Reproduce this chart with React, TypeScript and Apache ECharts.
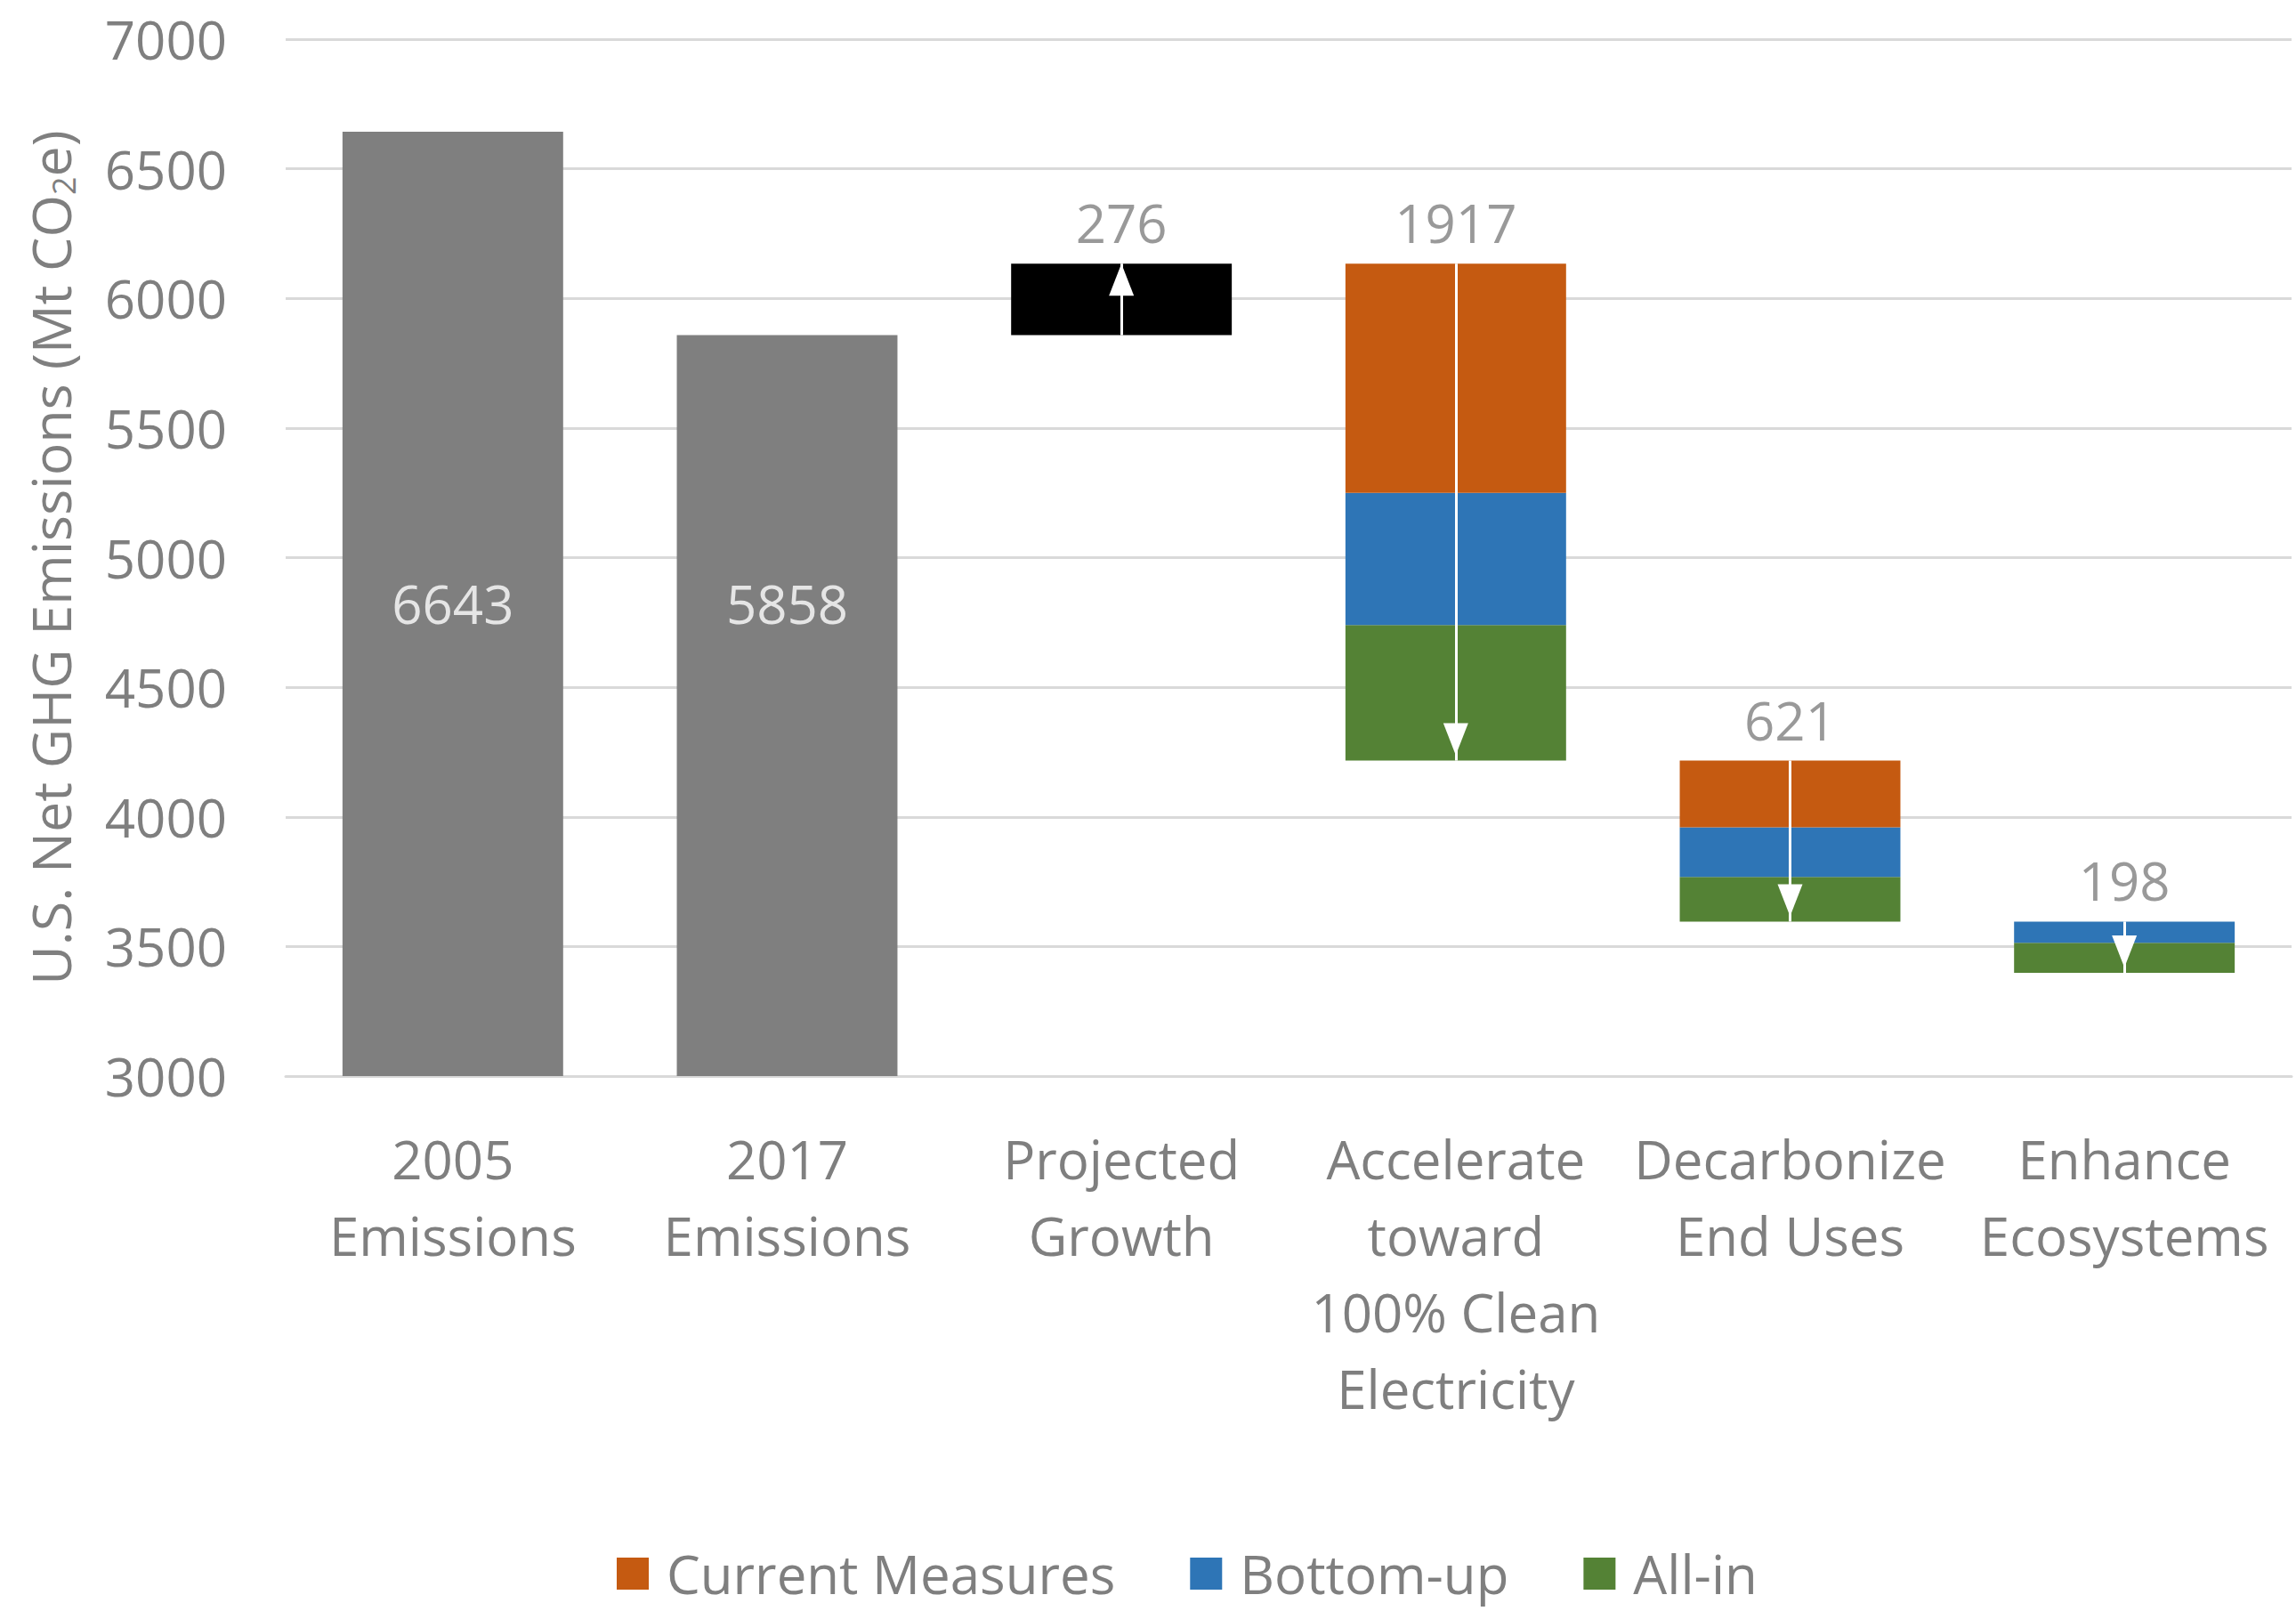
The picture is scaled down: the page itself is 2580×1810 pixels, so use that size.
import React, { useEffect, useRef } from "react";
import * as echarts from "echarts";

const categories = [
  "2005\nEmissions",
  "2017\nEmissions",
  "Projected\nGrowth",
  "Accelerate\ntoward\n100% Clean\nElectricity",
  "Decarbonize\nEnd Uses",
  "Enhance\nEcosystems",
];
const historical = [6643, 5858, null, null, null, null];
const changes = [null, null, 276, -1917, -621, -198];
const currentMeasures = [null, null, null, 884, 257, null];
const bottomUp = [null, null, null, 510, 192, 82];
const allIn = [null, null, null, 523, 172, 116];
const yTicks = { min: 3000, max: 7000, interval: 500 };

const FONT = "'Open Sans', 'Noto Sans', sans-serif";
const GREY = "#7f7f7f";

export default function App() {
  const ref = useRef<HTMLDivElement>(null);
  useEffect(() => {
    document.body.style.margin = "0";
    const chart = echarts.init(ref.current!, null, { renderer: "svg" });

    const base: (number | null)[] = [];
    const greyVals: (number | null)[] = [];
    const growth: (number | null)[] = [];
    const tops: (number | null)[] = [];
    const arrows: any[] = [];
    let level = 0;
    categories.forEach((_, i) => {
      if (historical[i] != null) {
        level = historical[i] as number;
        base.push(yTicks.min);
        greyVals.push(level - yTicks.min);
        growth.push(null);
        tops.push(null);
      } else {
        const c = changes[i] as number;
        const from = level;
        const to = level + c;
        base.push(Math.min(from, to));
        greyVals.push(null);
        growth.push(c > 0 ? c : null);
        tops.push(Math.max(from, to));
        arrows.push([
          { coord: [i, from], symbol: "none" },
          { coord: [i, to], symbol: "triangle", symbolSize: [28, 36], symbolOffset: [0, c > 0 ? 18 : 24] },
        ]);
        level = to;
      }
    });
    // Excel-style: both historical labels at the same height (middle of the tallest bar)
    const firstHist = historical.find((v) => v != null) as number;
    const histLabelLevel = historical.map((v) => (v != null ? (yTicks.min + firstHist) / 2 : null));

    const stackBar = (name: string, data: any[], color: string, extra: any = {}) => ({
      name,
      type: "bar",
      stack: "w",
      data,
      barWidth: "66%",
      itemStyle: { color },
      emphasis: { disabled: true },
      ...extra,
    });

    chart.setOption({
      animation: false,
      grid: { left: 321, right: 5, top: 44, bottom: 601, containLabel: false },
      legend: {
        data: ["Current Measures", "Bottom-up", "All-in"],
        left: 688,
        top: 1733,
        itemWidth: 36,
        itemHeight: 36,
        itemGap: 84,
        icon: "rect",
        textStyle: { fontFamily: FONT, fontSize: 60, lineHeight: 60, color: GREY, padding: [0, 0, 0, 15] },
      },
      xAxis: {
        type: "category",
        data: categories,
        axisLine: { lineStyle: { color: "#d9d9d9", width: 3 } },
        axisTick: { show: false },
        axisLabel: {
          interval: 0,
          fontFamily: FONT,
          fontSize: 60,
          lineHeight: 86,
          color: GREY,
          margin: 50,
        },
      },
      yAxis: {
        type: "value",
        min: yTicks.min,
        max: yTicks.max,
        interval: yTicks.interval,
        name: "U.S. Net GHG Emissions (Mt CO{sub|2}e)",
        nameLocation: "middle",
        nameRotate: 90,
        nameGap: 232,
        nameTextStyle: {
          fontFamily: FONT,
          fontSize: 61,
          color: GREY,
          rich: { sub: { fontFamily: FONT, fontSize: 36, color: GREY, verticalAlign: "bottom", padding: [30, 0, 0, 0] } },
        },
        axisLine: { show: false },
        axisTick: { show: false },
        splitLine: { lineStyle: { color: "#d9d9d9", width: 3 } },
        axisLabel: { fontFamily: FONT, fontSize: 60, color: GREY, margin: 66, formatter: (v: number) => String(v) },
      },
      series: [
        stackBar("base", base, "transparent", { silent: true }),
        stackBar("Emissions", greyVals, "#7f7f7f"),
        stackBar("Growth", growth, "#000000"),
        stackBar("All-in", allIn, "#548235"),
        stackBar("Bottom-up", bottomUp, "#2e75b6"),
        stackBar("Current Measures", currentMeasures, "#c55a11"),
        {
          name: "histLabels",
          type: "scatter",
          data: histLabelLevel,
          symbolSize: 0,
          silent: true,
          label: {
            show: true,
            position: "inside",
            color: "#ffffff",
            fontFamily: FONT,
            fontSize: 60,
            formatter: (p: any) => String(historical[p.dataIndex]),
          },
          z: 5,
        },
        {
          name: "changes",
          type: "scatter",
          data: tops,
          symbolSize: 0,
          silent: true,
          label: {
            show: true,
            position: "top",
            distance: 16,
            fontFamily: FONT,
            fontSize: 60,
            color: GREY,
            formatter: (p: any) => String(Math.abs(changes[p.dataIndex] as number)),
          },
          markLine: {
            silent: true,
            symbol: ["none", "triangle"],
            symbolSize: 30,
            label: { show: false },
            lineStyle: { color: "#ffffff", width: 3, type: "solid", opacity: 1 },
            data: arrows,
          },
          z: 5,
        },
      ],
    });
    return () => chart.dispose();
  }, []);
  return <div ref={ref} style={{ width: 2580, height: 1810 }} />;
}
